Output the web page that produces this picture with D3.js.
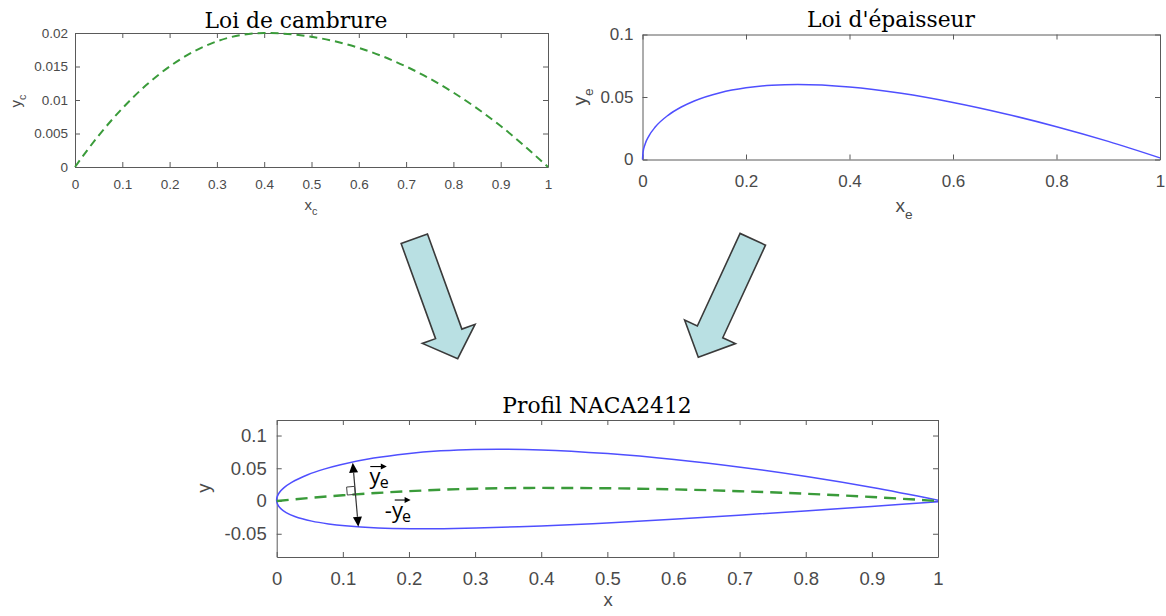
<!DOCTYPE html>
<html><head><meta charset="utf-8">
<script src="https://cdn.jsdelivr.net/npm/d3@7"></script>
<style>body{margin:0;background:#fff} svg{display:block}</style>
</head><body>
<svg id="c" width="1166" height="616"></svg>
<script>
// ---------- data ----------
const camberX = [0, 0.025, 0.05, 0.1, 0.15, 0.2, 0.25, 0.3, 0.35, 0.4, 0.5, 0.6, 0.7, 0.8, 0.9, 1.0];
const camberY = [0, 0.00242, 0.00469, 0.00875, 0.01219, 0.015, 0.01719, 0.01875, 0.01969, 0.02, 0.01944, 0.01778, 0.015, 0.01111, 0.00611, 0];

const thickX = [0, 0.001, 0.005, 0.0125, 0.025, 0.05, 0.075, 0.1, 0.15, 0.2, 0.25, 0.3, 0.4, 0.5, 0.6, 0.7, 0.8, 0.9, 1.0];
const thickY = [0, 0.00556, 0.01221, 0.01894, 0.02615, 0.03555, 0.0420, 0.04683, 0.05345, 0.05737, 0.05941, 0.06002, 0.05803, 0.05294, 0.04563, 0.03664, 0.02623, 0.01448, 0.00126];

const upperX = [0, 0.00045, 0.0038, 0.0107, 0.0226, 0.0469, 0.0716, 0.0965, 0.1467, 0.1971, 0.2478, 0.2985, 0.4, 0.5006, 0.601, 0.7012, 0.8012, 0.9008, 1.0];
const upperY = [0, 0.00563, 0.01265, 0.02008, 0.02846, 0.0401, 0.04866, 0.05545, 0.06554, 0.0723, 0.07656, 0.07875, 0.07803, 0.07238, 0.0634, 0.05162, 0.03731, 0.02057, 0.00126];
const lowerX = [0, 0.00155, 0.0062, 0.0143, 0.0274, 0.0531, 0.0784, 0.1035, 0.1533, 0.2029, 0.2522, 0.3015, 0.4, 0.4994, 0.599, 0.6988, 0.7988, 0.8992, 1.0];
const lowerY = [0, -0.00543, -0.01165, -0.01762, -0.02362, -0.03072, -0.03506, -0.03795, -0.04116, -0.0423, -0.04218, -0.04125, -0.03803, -0.0335, -0.02784, -0.02162, -0.01509, -0.00835, -0.00126];

const ticksX10 = [0, 0.1, 0.2, 0.3, 0.4, 0.5, 0.6, 0.7, 0.8, 0.9, 1];
const camberTicksY = [0, 0.005, 0.01, 0.015, 0.02];
const thickTicksX = [0, 0.2, 0.4, 0.6, 0.8, 1];
const thickTicksY = [0, 0.05, 0.1];
const profTicksY = [-0.05, 0, 0.05, 0.1];

// annotation (data coordinates of the double arrow)
const annotTip = [0.115, 0.0586];
const annotTail = [0.1234, -0.0393];
const annotFoot = [0.1188, 0.0102];

// ---------- styles ----------
const AX = "#5a5a5a", TXT = "#4a4a4a", SANS = "Liberation Sans, Arial, sans-serif";
const SERIF = "DejaVu Serif, serif";
const GREEN = "#3a9b3a", BLUE = "#4f4fff";
const svg = d3.select("#c");
const fmt = d => String(+(+d).toFixed(3));
const zip = (a, b) => a.map((v, i) => [v, b[i]]);

function panel(cfg) {
  const g = svg.append("g");
  const x = d3.scaleLinear().domain(cfg.xd).range([cfg.l, cfg.r]);
  const y = d3.scaleLinear().domain(cfg.yd).range([cfg.b, cfg.t]);
  const st = sel => {
    sel.select(".domain").attr("stroke", AX).attr("stroke-width", 1);
    sel.selectAll(".tick line").attr("stroke", AX).attr("stroke-width", 1);
    sel.selectAll("text").attr("fill", TXT).attr("font-family", SANS).attr("font-size", cfg.fs);
  };
  g.append("g").attr("transform", `translate(0,${cfg.b})`)
    .call(d3.axisBottom(x).tickValues(cfg.xt).tickFormat(fmt).tickSizeInner(-5).tickSizeOuter(0).tickPadding(cfg.px)).call(st);
  g.append("g").attr("transform", `translate(0,${cfg.t})`)
    .call(d3.axisTop(x).tickValues(cfg.xt).tickFormat("").tickSizeInner(-5).tickSizeOuter(0)).call(st);
  g.append("g").attr("transform", `translate(${cfg.l},0)`)
    .call(d3.axisLeft(y).tickValues(cfg.yt).tickFormat(fmt).tickSizeInner(-5).tickSizeOuter(0).tickPadding(cfg.py)).call(st);
  g.append("g").attr("transform", `translate(${cfg.r},0)`)
    .call(d3.axisRight(y).tickValues(cfg.yt).tickFormat("").tickSizeInner(-5).tickSizeOuter(0)).call(st);
  // title
  g.append("text").attr("x", cfg.tx).attr("y", cfg.ty).attr("text-anchor", "middle")
    .attr("font-family", SERIF).attr("font-size", 21.8).attr("fill", "#000").text(cfg.title);
  // x label
  const xl = g.append("text").attr("x", cfg.xlx).attr("y", cfg.xly).attr("text-anchor", "middle")
    .attr("font-family", SANS).attr("font-size", cfg.lfs).attr("fill", TXT);
  xl.append("tspan").text(cfg.xlab);
  if (cfg.sub) xl.append("tspan").attr("dy", cfg.lfs * 0.35).attr("font-size", cfg.lfs * 0.72).text(cfg.sub);
  const yl = g.append("text").attr("transform", `translate(${cfg.ylx},${cfg.yly}) rotate(-90)`)
    .attr("text-anchor", "middle").attr("font-family", SANS).attr("font-size", cfg.lfs).attr("fill", TXT);
  yl.append("tspan").text(cfg.ylab);
  if (cfg.sub) yl.append("tspan").attr("dy", cfg.lfs * 0.35).attr("font-size", cfg.lfs * 0.72).text(cfg.sub);
  return { g, x, y };
}

// ---------- panel A : camber ----------
const A = panel({ l: 75, r: 548, t: 33, b: 167, xd: [0, 1], yd: [0, 0.02], xt: ticksX10, yt: camberTicksY,
  fs: 13.5, px: 12, py: 7, title: "Loi de cambrure", tx: 296, ty: 28,
  xlab: "x", ylab: "y", sub: "c", lfs: 15, xlx: 311, xly: 210, ylx: 21, yly: 101 });
A.g.append("path").datum(zip(camberX, camberY))
  .attr("d", d3.line().x(d => A.x(d[0])).y(d => A.y(d[1])).curve(d3.curveMonotoneX))
  .attr("fill", "none").attr("stroke", GREEN).attr("stroke-width", 2).attr("stroke-dasharray", "8,5");

// ---------- panel B : thickness ----------
const B = panel({ l: 642.5, r: 1160, t: 34.5, b: 159.5, xd: [0, 1], yd: [0, 0.1], xt: thickTicksX, yt: thickTicksY,
  fs: 17, px: 15, py: 9, title: "Loi d'épaisseur", tx: 891, ty: 27,
  xlab: "x", ylab: "y", sub: "e", lfs: 19, xlx: 904, xly: 212, ylx: 586, yly: 97 });
B.g.append("path").datum(zip(thickX, thickY))
  .attr("d", d3.line().x(d => B.x(d[0])).y(d => B.y(d[1])).curve(d3.curveMonotoneX))
  .attr("fill", "none").attr("stroke", BLUE).attr("stroke-width", 1.5);

// ---------- panel C : profile ----------
const C = panel({ l: 276.7, r: 938, t: 420, b: 557, xd: [0, 1], yd: [-0.0855, 0.1237], xt: ticksX10, yt: profTicksY,
  fs: 18.5, px: 14.5, py: 10, title: "Profil NACA2412", tx: 597, ty: 413,
  xlab: "x", ylab: "y", sub: null, lfs: 18.5, xlx: 608, xly: 606, ylx: 210, yly: 488 });
const outline = zip(upperX, upperY).reverse().concat(zip(lowerX, lowerY).slice(1));
C.g.append("path").datum(outline)
  .attr("d", d3.line().x(d => C.x(d[0])).y(d => C.y(d[1])).curve(d3.curveCatmullRom.alpha(0.5)))
  .attr("fill", "none").attr("stroke", BLUE).attr("stroke-width", 1.5);
C.g.append("path").datum(zip(camberX, camberY))
  .attr("d", d3.line().x(d => C.x(d[0])).y(d => C.y(d[1])).curve(d3.curveMonotoneX))
  .attr("fill", "none").attr("stroke", GREEN).attr("stroke-width", 2.4).attr("stroke-dasharray", "12,7");

// annotation double arrow
(function () {
  const T = [C.x(annotTip[0]), C.y(annotTip[1])], Bt = [C.x(annotTail[0]), C.y(annotTail[1])];
  const F = [C.x(annotFoot[0]), C.y(annotFoot[1])];
  const dx = T[0] - Bt[0], dy = T[1] - Bt[1], L = Math.hypot(dx, dy);
  const u = [dx / L, dy / L], n = [-u[1], u[0]];
  const hl = 10, hw = 4.5;
  C.g.append("line").attr("x1", Bt[0] + u[0] * hl).attr("y1", Bt[1] + u[1] * hl)
    .attr("x2", T[0] - u[0] * hl).attr("y2", T[1] - u[1] * hl).attr("stroke", "#333").attr("stroke-width", 1.2);
  const head = (P, d) => [P, [P[0] - d[0] * hl + n[0] * hw, P[1] - d[1] * hl + n[1] * hw], [P[0] - d[0] * hl - n[0] * hw, P[1] - d[1] * hl - n[1] * hw]];
  C.g.append("polygon").attr("points", head(T, u).join(" ")).attr("fill", "#000");
  C.g.append("polygon").attr("points", head(Bt, [-u[0], -u[1]]).join(" ")).attr("fill", "#000");
  // right angle mark (square on the upper-left side of the foot point)
  const s = 8;
  const w = n[0] < 0 ? n : [-n[0], -n[1]];
  const sq = [F, [F[0] + u[0] * s, F[1] + u[1] * s], [F[0] + u[0] * s + w[0] * s, F[1] + u[1] * s + w[1] * s], [F[0] + w[0] * s, F[1] + w[1] * s]];
  C.g.append("polygon").attr("points", sq.join(" ")).attr("fill", "none").attr("stroke", "#444").attr("stroke-width", 1);

  const AF = "Open Sans, Noto Sans, sans-serif";
  const vecLabel = (x0, base, minus) => {
    const t = C.g.append("text").attr("x", x0).attr("y", base).attr("font-family", AF).attr("font-size", 22).attr("fill", "#000");
    if (minus) t.append("tspan").text("-");
    t.append("tspan").text("y");
    t.append("tspan").attr("dx", -1).attr("dy", 4).attr("font-size", 16).text("e");
    return t;
  };
  const vecArrow = (x1, x2, yy) => {
    C.g.append("line").attr("x1", x1).attr("x2", x2 - 3).attr("y1", yy).attr("y2", yy).attr("stroke", "#000").attr("stroke-width", 1.1);
    C.g.append("polygon").attr("points", [[x2, yy], [x2 - 6, yy - 3], [x2 - 6, yy + 3]].join(" ")).attr("fill", "#000");
  };
  vecLabel(C.x(0.1405), C.y(0.0260), false);
  vecArrow(C.x(0.1415), C.x(0.1665), C.y(0.0526));
  vecLabel(C.x(0.1635), C.y(-0.0265), true);
  vecArrow(C.x(0.1785), C.x(0.2025), C.y(0.0015));
})();

// ---------- big arrows ----------
function bigArrow(tail, tip, sw, hw, hl) {
  const dx = tip[0] - tail[0], dy = tip[1] - tail[1], L = Math.hypot(dx, dy);
  const u = [dx / L, dy / L], n = [-u[1], u[0]];
  const base = [tip[0] - u[0] * hl, tip[1] - u[1] * hl];
  const p = (P, k) => [P[0] + n[0] * k, P[1] + n[1] * k];
  const pts = [p(tail, sw / 2), p(base, sw / 2), p(base, hw / 2), tip, p(base, -hw / 2), p(base, -sw / 2), p(tail, -sw / 2)];
  svg.append("polygon").attr("points", pts.map(q => q.join(",")).join(" "))
    .attr("fill", "#b9e0e3").attr("stroke", "#3a3a3a").attr("stroke-width", 1.6).attr("stroke-linejoin", "miter");
}
bigArrow([414.3, 238.8], [457.7, 358.7], 28, 56, 26.4);
bigArrow([752.8, 239.3], [698.3, 357.3], 28, 56, 28);
</script>
</body></html>
